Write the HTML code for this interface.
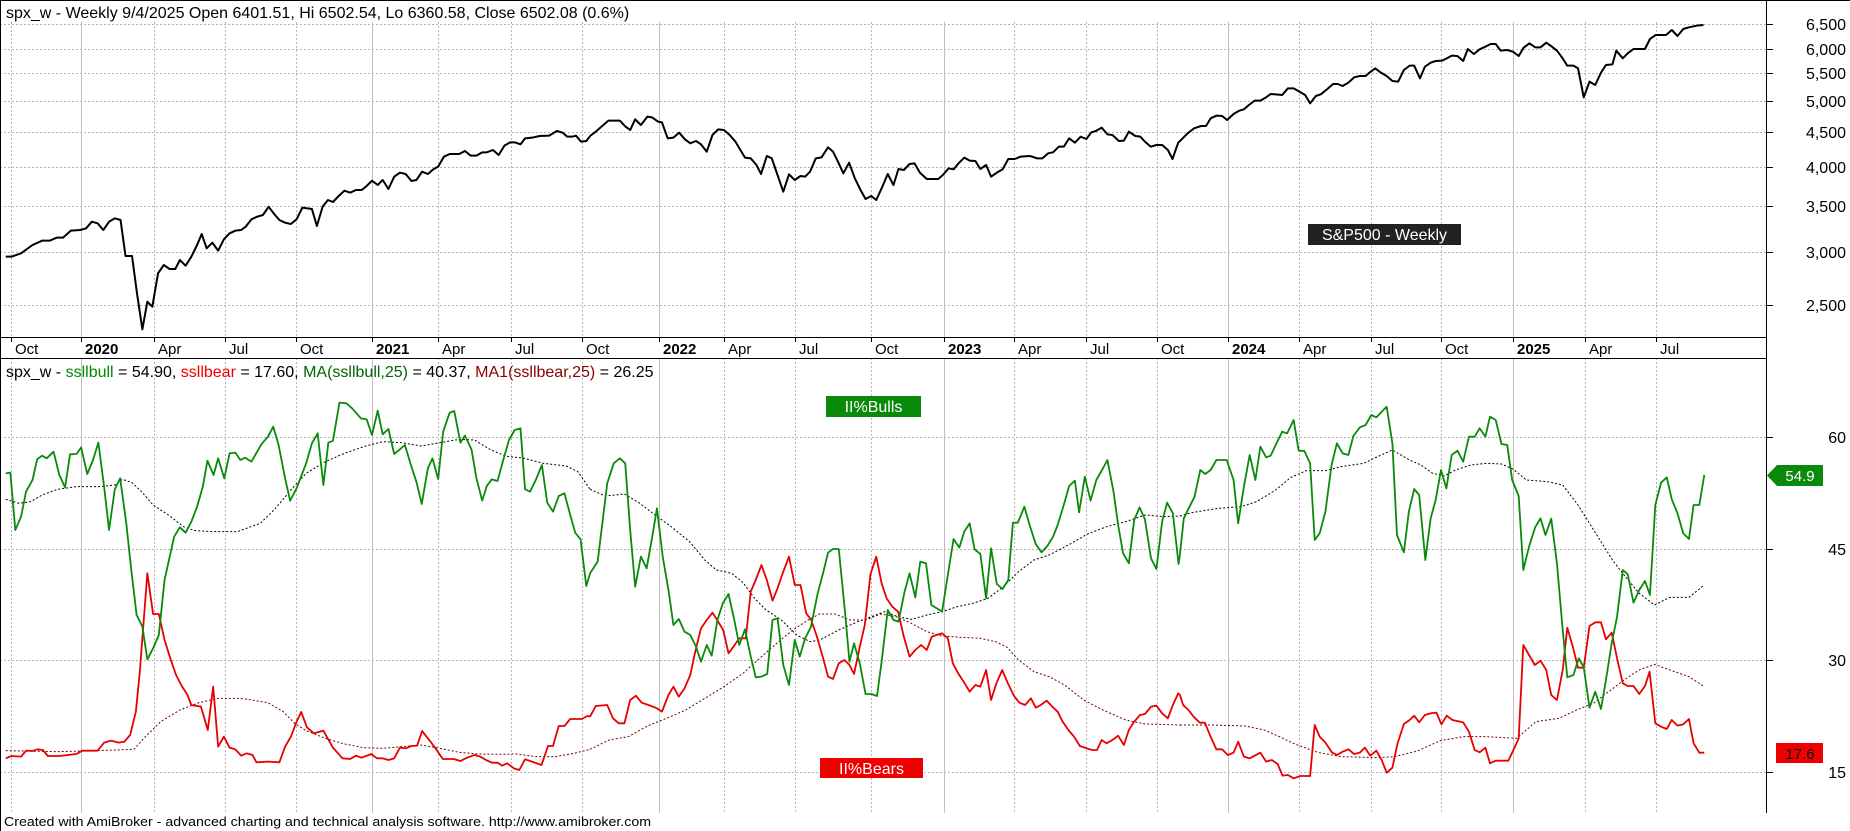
<!DOCTYPE html>
<html><head><meta charset="utf-8"><style>
html,body{margin:0;padding:0;background:#fff;}
svg{display:block;font-family:"Liberation Sans",Arial,sans-serif;}
</style></head><body>
<svg width="1850" height="831" viewBox="0 0 1850 831" xmlns="http://www.w3.org/2000/svg">
<rect x="0" y="0" width="1850" height="831" fill="#fff"/>
<g stroke="#b4b4b4" stroke-width="1" stroke-dasharray="2,2">
<line x1="0" x2="1766" y1="24.5" y2="24.5"/><line x1="0" x2="1766" y1="49.5" y2="49.5"/><line x1="0" x2="1766" y1="73.5" y2="73.5"/><line x1="0" x2="1766" y1="101.5" y2="101.5"/><line x1="0" x2="1766" y1="132.5" y2="132.5"/><line x1="0" x2="1766" y1="167.5" y2="167.5"/><line x1="0" x2="1766" y1="206.5" y2="206.5"/><line x1="0" x2="1766" y1="252.5" y2="252.5"/><line x1="0" x2="1766" y1="305.5" y2="305.5"/>
<line x1="0" x2="1766" y1="437.5" y2="437.5"/><line x1="0" x2="1766" y1="549.5" y2="549.5"/><line x1="0" x2="1766" y1="660.5" y2="660.5"/><line x1="0" x2="1766" y1="772.5" y2="772.5"/>
</g>
<g stroke="#b4b4b4" stroke-width="1" stroke-dasharray="2,2">
<line x1="11.5" x2="11.5" y1="22" y2="813"/><line x1="154.5" x2="154.5" y1="22" y2="813"/><line x1="225.5" x2="225.5" y1="22" y2="813"/><line x1="296.5" x2="296.5" y1="22" y2="813"/>
<line x1="438.5" x2="438.5" y1="22" y2="813"/><line x1="511.5" x2="511.5" y1="22" y2="813"/><line x1="582.5" x2="582.5" y1="22" y2="813"/>
<line x1="724.5" x2="724.5" y1="22" y2="813"/><line x1="795.5" x2="795.5" y1="22" y2="813"/><line x1="871.5" x2="871.5" y1="22" y2="813"/>
<line x1="1014.5" x2="1014.5" y1="22" y2="813"/><line x1="1086.5" x2="1086.5" y1="22" y2="813"/><line x1="1157.5" x2="1157.5" y1="22" y2="813"/>
<line x1="1299.5" x2="1299.5" y1="22" y2="813"/><line x1="1371.5" x2="1371.5" y1="22" y2="813"/><line x1="1441.5" x2="1441.5" y1="22" y2="813"/>
<line x1="1585.5" x2="1585.5" y1="22" y2="813"/><line x1="1656.5" x2="1656.5" y1="22" y2="813"/>
</g>
<g stroke="#c0c0c0" stroke-width="1">
<line x1="81.5" x2="81.5" y1="22" y2="813"/><line x1="372.5" x2="372.5" y1="22" y2="813"/><line x1="659.5" x2="659.5" y1="22" y2="813"/><line x1="944.5" x2="944.5" y1="22" y2="813"/><line x1="1228.5" x2="1228.5" y1="22" y2="813"/><line x1="1513.5" x2="1513.5" y1="22" y2="813"/>
</g>
<rect x="0" y="337" width="1766" height="21" fill="#fff"/>
<g stroke="#000" stroke-width="1">
<line x1="0" x2="1766" y1="337.5" y2="337.5"/><line x1="0" x2="1766" y1="358.5" y2="358.5"/>
<line x1="1766.5" x2="1766.5" y1="0" y2="813"/>
<line x1="0.5" x2="0.5" y1="0" y2="831"/><line x1="0" x2="1850" y1="0.5" y2="0.5"/>
</g>
<g stroke="#000" stroke-width="1">
<line x1="11.5" x2="11.5" y1="337" y2="342"/><line x1="81.5" x2="81.5" y1="337" y2="342"/><line x1="154.5" x2="154.5" y1="337" y2="342"/><line x1="225.5" x2="225.5" y1="337" y2="342"/><line x1="296.5" x2="296.5" y1="337" y2="342"/><line x1="372.5" x2="372.5" y1="337" y2="342"/><line x1="438.5" x2="438.5" y1="337" y2="342"/><line x1="511.5" x2="511.5" y1="337" y2="342"/><line x1="582.5" x2="582.5" y1="337" y2="342"/><line x1="659.5" x2="659.5" y1="337" y2="342"/><line x1="724.5" x2="724.5" y1="337" y2="342"/><line x1="795.5" x2="795.5" y1="337" y2="342"/><line x1="871.5" x2="871.5" y1="337" y2="342"/><line x1="944.5" x2="944.5" y1="337" y2="342"/><line x1="1014.5" x2="1014.5" y1="337" y2="342"/><line x1="1086.5" x2="1086.5" y1="337" y2="342"/><line x1="1157.5" x2="1157.5" y1="337" y2="342"/><line x1="1228.5" x2="1228.5" y1="337" y2="342"/><line x1="1299.5" x2="1299.5" y1="337" y2="342"/><line x1="1371.5" x2="1371.5" y1="337" y2="342"/><line x1="1441.5" x2="1441.5" y1="337" y2="342"/><line x1="1513.5" x2="1513.5" y1="337" y2="342"/><line x1="1585.5" x2="1585.5" y1="337" y2="342"/><line x1="1656.5" x2="1656.5" y1="337" y2="342"/>
<line x1="1766" x2="1773" y1="24.5" y2="24.5"/><line x1="1766" x2="1773" y1="49.5" y2="49.5"/><line x1="1766" x2="1773" y1="73.5" y2="73.5"/><line x1="1766" x2="1773" y1="101.5" y2="101.5"/><line x1="1766" x2="1773" y1="132.5" y2="132.5"/><line x1="1766" x2="1773" y1="167.5" y2="167.5"/><line x1="1766" x2="1773" y1="206.5" y2="206.5"/><line x1="1766" x2="1773" y1="252.5" y2="252.5"/><line x1="1766" x2="1773" y1="305.5" y2="305.5"/>
<line x1="1766" x2="1773" y1="437.5" y2="437.5"/><line x1="1766" x2="1773" y1="549.5" y2="549.5"/><line x1="1766" x2="1773" y1="660.5" y2="660.5"/><line x1="1766" x2="1773" y1="772.5" y2="772.5"/>
</g>
<g font-size="15" fill="#000">
<text x="15" y="354">Oct</text><text x="85" y="354" font-weight="bold">2020</text><text x="158" y="354">Apr</text><text x="229" y="354">Jul</text><text x="300" y="354">Oct</text><text x="376" y="354" font-weight="bold">2021</text><text x="442" y="354">Apr</text><text x="515" y="354">Jul</text><text x="586" y="354">Oct</text><text x="663" y="354" font-weight="bold">2022</text><text x="728" y="354">Apr</text><text x="799" y="354">Jul</text><text x="875" y="354">Oct</text><text x="948" y="354" font-weight="bold">2023</text><text x="1018" y="354">Apr</text><text x="1090" y="354">Jul</text><text x="1161" y="354">Oct</text><text x="1232" y="354" font-weight="bold">2024</text><text x="1303" y="354">Apr</text><text x="1375" y="354">Jul</text><text x="1445" y="354">Oct</text><text x="1517" y="354" font-weight="bold">2025</text><text x="1589" y="354">Apr</text><text x="1660" y="354">Jul</text>
</g>
<g font-size="16" fill="#000" text-anchor="end">
<text x="1846" y="30">6,500</text><text x="1846" y="55">6,000</text><text x="1846" y="79">5,500</text><text x="1846" y="107">5,000</text><text x="1846" y="138">4,500</text><text x="1846" y="173">4,000</text><text x="1846" y="212">3,500</text><text x="1846" y="258">3,000</text><text x="1846" y="311">2,500</text>
<text x="1846" y="443">60</text><text x="1846" y="555">45</text><text x="1846" y="666">30</text><text x="1846" y="778">15</text>
</g>
<text x="6" y="18" font-size="16" fill="#000">spx_w - Weekly 9/4/2025 Open 6401.51, Hi 6502.54, Lo 6360.58, Close 6502.08 (0.6%)</text>
<text x="6" y="377" font-size="16" fill="#000">spx_w - <tspan fill="#008800">ssllbull</tspan> = 54.90, <tspan fill="#ee0000">ssllbear</tspan> = 17.60, <tspan fill="#006400">MA(ssllbull,25)</tspan> = 40.37, <tspan fill="#8b0000">MA1(ssllbear,25)</tspan> = 26.25</text>
<g fill="none" stroke="#000" stroke-width="2" stroke-linejoin="round">
<polyline vector-effect="non-scaling-stroke" transform="scale(0.38270,0.33333)" points="15,770 30,770 55,760 85,735 110,722 130,722 148,713 165,713 185,692 210,690 225,685 240,665 255,670 270,690 285,665 300,655 315,660 328,768 345,768 358,880 372,988 385,905 398,920 413,820 428,795 443,807 458,807 470,780 485,797 500,770 515,735 527,702 540,745 555,728 570,752 585,718 600,700 615,692 630,690 642,680 657,658 672,650 687,645 702,620 715,640 730,660 745,668 760,672 775,658 790,623 815,627 828,678 843,620 857,600 870,606 885,588 900,572 915,578 930,570 945,570 958,558 972,542 987,555 1000,540 1015,567 1030,530 1045,518 1060,522 1075,543 1088,540 1103,515 1118,522 1132,508 1145,500 1160,470 1175,462 1200,462 1215,453 1230,467 1245,467 1260,457 1272,457 1288,450 1303,465 1318,437 1333,427 1345,427 1360,433 1372,415 1390,413 1410,408 1435,407 1455,393 1470,398 1482,410 1495,410 1505,407 1518,425 1532,423 1542,408"/>
<polyline vector-effect="non-scaling-stroke" transform="translate(590,0) scale(0.38270,0.33333)" points="0,408 15,395 30,380 48,362 78,362 93,380 105,390 118,358 133,375 150,350 162,352 178,365 188,367 203,415 218,413 233,398 248,418 262,430 277,423 290,433 305,455 320,405 335,388 350,390 365,405 380,425 393,450 405,473 420,475 435,495 447,522 462,468 475,475 490,525 505,575 520,523 535,540 550,528 562,530 575,515 590,475 605,472 622,442 635,455 648,485 662,520 677,488 692,535 707,570 720,597 735,588 748,600 762,565 778,522 793,555 806,507 820,510 835,492 848,490 862,518 880,537 910,537 922,525 937,505 950,508 963,490 978,473 992,482 1007,483 1020,507 1035,495 1048,530 1063,518 1078,508 1093,477 1110,477 1125,470 1150,468 1168,475 1182,475 1197,460 1210,457 1225,440 1238,440 1252,415 1267,428 1282,410 1297,417 1310,397 1322,393 1337,383 1352,403 1365,405 1382,423 1395,422 1408,395 1425,408 1438,410 1450,425 1465,440 1480,435 1495,435 1510,450 1522,477 1537,428 1542,423"/>
<polyline vector-effect="non-scaling-stroke" transform="translate(1180,0) scale(0.38270,0.33333)" points="0,423 20,400 37,385 55,378 68,378 80,355 95,347 110,348 123,360 140,342 155,332 167,328 180,315 195,302 210,302 225,292 237,282 250,283 267,285 282,265 297,265 312,275 327,285 340,310 355,288 368,283 385,267 400,252 412,252 425,258 440,248 455,232 470,228 485,228 495,218 510,205 525,218 540,228 555,243 570,245 585,210 600,197 612,197 627,235 640,200 655,188 668,183 685,182 697,175 710,167 725,168 740,183 752,147 768,162 783,148 798,140 812,132 825,132 838,152 855,150 870,155 885,168 898,143 913,130 928,142 942,142 957,128 972,140 985,152 998,172 1012,197 1028,197 1040,205 1055,292 1070,245 1085,255 1100,218 1113,195 1130,193 1140,152 1157,175 1170,160 1185,147 1215,147 1228,117 1243,105 1270,105 1285,90 1300,108 1315,87 1330,82 1350,77 1368,75"/>
</g>
<rect x="1308" y="224" width="153" height="21" fill="#222"/>
<text x="1384.5" y="240" font-size="16" fill="#fff" text-anchor="middle">S&amp;P500 - Weekly</text>
<g fill="none" stroke="#000" stroke-width="1" stroke-dasharray="2,2">
<polyline vector-effect="non-scaling-stroke" transform="translate(0,390) scale(0.38270,0.33333)" points="15,328 50,340 80,335 110,315 150,298 200,290 260,290 300,285 320,268 345,278 370,305 400,345 440,375 480,410 510,422 560,425 620,425 680,400 720,355 760,300 800,250 850,215 900,190 950,170 1000,155 1050,158 1100,168 1150,158 1200,148 1240,150 1280,178 1320,198 1370,205 1420,220 1480,228 1510,245 1542,298"/>
<polyline vector-effect="non-scaling-stroke" transform="translate(590,390) scale(0.38270,0.33333)" points="0,298 40,318 90,312 130,340 170,375 210,408 260,455 300,510 330,540 370,550 400,578 430,625 460,660 500,690 540,735 575,755 600,750 650,720 700,695 740,678 770,665 805,680 840,688 880,675 920,665 960,650 1000,640 1040,625 1080,590 1120,545 1160,510 1200,495 1250,465 1300,432 1350,410 1400,395 1450,375 1500,380 1542,378"/>
<polyline vector-effect="non-scaling-stroke" transform="translate(1180,390) scale(0.38270,0.33333)" points="0,378 30,368 100,355 160,350 200,335 250,300 290,262 330,242 380,242 420,230 480,220 520,198 555,180 600,210 630,225 660,250 690,258 720,240 760,225 800,220 840,222 870,237 905,270 960,275 1000,285 1040,345 1070,400 1100,455 1130,510 1160,555 1200,610 1240,645 1280,622 1330,622 1370,585"/>
</g>
<g fill="none" stroke="#6b0000" stroke-width="1" stroke-dasharray="2,2">
<polyline vector-effect="non-scaling-stroke" transform="translate(0,390) scale(0.38270,0.33333)" points="15,1082 60,1083 150,1085 250,1082 300,1080 350,1078 380,1040 420,995 470,960 520,938 570,925 630,925 700,938 740,965 770,1000 800,1022 850,1045 900,1062 950,1073 1000,1075 1050,1070 1100,1065 1150,1075 1200,1087 1250,1092 1300,1093 1350,1092 1400,1100 1450,1100 1500,1090 1542,1078"/>
<polyline vector-effect="non-scaling-stroke" transform="translate(590,390) scale(0.38270,0.33333)" points="0,1078 50,1050 100,1040 150,1008 200,985 250,960 300,925 350,890 400,850 450,798 500,748 530,720 570,690 600,672 640,672 680,690 720,690 760,672 800,680 840,700 880,725 920,738 970,742 1020,745 1060,755 1090,772 1120,810 1160,845 1200,860 1240,885 1290,930 1340,960 1400,990 1450,1002 1542,1005"/>
<polyline vector-effect="non-scaling-stroke" transform="translate(1180,390) scale(0.38270,0.33333)" points="0,1005 80,1005 170,1008 220,1020 260,1040 300,1062 360,1087 420,1100 520,1103 560,1100 620,1083 680,1052 740,1040 800,1040 880,1045 930,995 990,985 1040,958 1080,940 1120,905 1160,870 1200,840 1240,823 1280,840 1330,860 1370,890"/>
</g>
<g fill="none" stroke="#e80000" stroke-width="1.8" stroke-linejoin="round">
<polyline vector-effect="non-scaling-stroke" transform="translate(0,390) scale(0.38270,0.33333)" points="15,1105 30,1098 55,1100 68,1082 85,1083 98,1078 112,1080 125,1098 155,1098 200,1092 215,1082 255,1082 272,1058 290,1052 310,1058 325,1055 340,1035 355,965 365,850 375,700 385,550 400,672 415,672 430,750 445,805 460,855 475,888 490,915 500,945 525,950 543,1020 557,890 570,1070 585,1040 600,1073 615,1078 630,1097 645,1090 660,1095 670,1117 700,1115 730,1117 745,1070 760,1040 775,995 787,966 802,1012 820,1030 845,1022 870,1073 895,1105 915,1107 930,1097 945,1103 970,1092 985,1105 1000,1105 1015,1110 1030,1105 1045,1073 1060,1075 1075,1068 1090,1067 1103,1023 1118,1045 1135,1070 1157,1107 1185,1107 1203,1113 1220,1103 1240,1095 1255,1100 1270,1110 1285,1118 1300,1118 1312,1127 1325,1120 1343,1135 1357,1140 1372,1108 1390,1115 1415,1125 1432,1068 1445,1068 1460,1008 1475,1008 1490,987 1520,987 1535,978 1542,980"/>
<polyline vector-effect="non-scaling-stroke" transform="translate(590,390) scale(0.38270,0.33333)" points="0,980 15,948 45,945 60,985 75,1000 90,1000 105,930 120,917 135,938 160,948 175,955 188,965 205,915 218,890 232,920 247,895 262,855 275,785 290,715 305,690 320,668 335,695 348,720 362,790 375,770 390,745 407,745 420,605 433,570 448,525 462,570 477,632 490,595 505,545 520,500 535,585 550,585 565,670 578,690 593,740 608,800 622,860 635,867 650,820 665,810 678,825 690,852 705,770 718,705 733,552 748,500 762,580 775,625 790,650 805,665 820,740 835,800 850,780 865,765 880,780 893,740 905,735 920,730 935,745 948,820 962,850 978,878 992,905 1007,885 1020,890 1035,840 1048,930 1062,880 1077,840 1092,880 1108,918 1122,938 1137,945 1152,925 1165,953 1178,945 1193,932 1208,950 1222,965 1235,995 1250,1020 1265,1040 1280,1068 1298,1075 1312,1080 1325,1080 1337,1050 1350,1060 1365,1050 1380,1037 1395,1065 1408,1020 1422,995 1437,975 1450,972 1466,950 1480,947 1495,970 1510,985 1523,945 1537,910 1542,915"/>
<polyline vector-effect="non-scaling-stroke" transform="translate(1180,390) scale(0.38270,0.33333)" points="0,915 8,945 22,960 37,982 52,998 65,998 80,1040 95,1078 110,1078 125,1095 140,1088 152,1055 167,1100 182,1105 195,1097 210,1088 225,1115 240,1110 255,1122 268,1157 282,1155 297,1165 315,1158 340,1158 352,1005 365,1040 380,1058 397,1087 410,1095 425,1085 440,1078 455,1092 470,1088 483,1073 497,1097 513,1082 527,1110 540,1148 555,1133 568,1062 585,1002 600,990 612,977 625,997 640,975 655,970 670,968 683,1003 697,977 712,990 740,997 755,1025 770,1080 783,1087 798,1073 810,1120 825,1112 858,1112 872,1078 885,1045 897,765 912,795 927,825 942,812 957,840 970,915 985,930 1000,840 1012,713 1027,773 1040,833 1055,833 1070,708 1085,697 1100,697 1113,748 1128,728 1143,810 1157,880 1170,888 1185,888 1200,912 1215,888 1227,845 1242,1000 1257,1010 1272,1017 1285,990 1300,1007 1315,1003 1330,987 1342,1060 1357,1088 1370,1088"/>
</g>
<g fill="none" stroke="#0a8a0a" stroke-width="1.8" stroke-linejoin="round">
<polyline vector-effect="non-scaling-stroke" transform="translate(0,390) scale(0.38270,0.33333)" points="15,250 27,248 40,420 55,380 68,305 85,270 97,208 110,197 122,205 140,185 155,255 170,292 183,193 200,192 212,172 228,252 243,210 257,158 272,290 285,420 300,298 314,265 330,400 343,540 357,675 372,710 385,808 400,775 415,735 430,570 455,440 470,412 485,428 500,395 515,350 530,290 542,212 558,255 570,205 586,265 600,190 615,188 628,210 640,203 657,215 683,163 700,140 714,110 728,165 745,265 758,332 775,295 800,220 815,160 830,130 845,285 858,158 870,152 887,38 905,40 920,55 943,85 958,88 972,135 987,62 1000,133 1015,117 1030,192 1045,178 1058,165 1075,230 1088,275 1102,342 1118,235 1130,205 1145,267 1158,125 1175,68 1187,63 1203,158 1215,137 1232,178 1245,265 1260,332 1272,288 1285,268 1300,273 1315,210 1330,150 1345,120 1360,115 1372,298 1385,305 1400,270 1416,225 1430,338 1445,365 1460,318 1475,310 1490,375 1503,428 1517,448 1532,588 1542,550"/>
<polyline vector-effect="non-scaling-stroke" transform="translate(590,390) scale(0.38270,0.33333)" points="0,550 20,515 45,280 62,220 78,205 92,220 105,420 118,590 133,500 148,535 162,445 175,355 190,500 205,600 218,705 232,687 247,725 262,735 277,770 290,815 305,765 318,797 333,690 347,640 362,612 377,690 390,765 405,718 420,800 433,862 448,860 463,852 477,690 490,685 505,825 520,885 535,750 548,800 562,745 577,712 595,610 610,545 622,488 635,477 650,477 665,650 678,815 690,760 705,820 720,912 735,912 750,918 762,815 778,660 793,690 806,695 822,605 835,550 850,622 863,515 878,520 892,645 920,665 935,555 950,447 965,473 978,425 992,400 1005,478 1020,492 1035,625 1048,475 1063,582 1078,597 1093,570 1105,398 1118,398 1135,350 1150,410 1165,463 1180,487 1195,468 1210,440 1222,405 1238,345 1252,288 1267,272 1278,367 1293,260 1308,332 1323,270 1338,240 1352,210 1368,305 1380,405 1393,490 1408,520 1422,390 1436,352 1450,388 1466,505 1480,537 1495,395 1508,338 1523,370 1538,522 1542,490"/>
<polyline vector-effect="non-scaling-stroke" transform="translate(1180,390) scale(0.38270,0.33333)" points="0,490 10,385 25,350 38,320 53,240 66,252 80,240 95,210 122,210 140,270 152,400 167,290 182,195 197,270 210,170 225,202 237,197 252,160 267,125 280,130 297,90 310,182 325,183 340,220 352,450 365,430 380,365 396,225 410,160 425,190 440,195 453,138 470,112 485,105 500,75 513,82 540,50 555,160 567,435 585,487 598,365 612,297 625,315 641,510 655,385 668,330 682,240 696,295 710,195 725,182 740,215 755,140 770,140 783,115 798,140 810,80 825,90 840,162 855,165 868,270 885,318 897,540 912,470 928,412 942,385 955,435 970,386 985,520 1000,720 1012,862 1028,855 1042,805 1055,832 1070,953 1085,905 1100,957 1113,870 1128,760 1142,680 1157,540 1170,553 1185,638 1200,600 1215,573 1228,615 1242,345 1257,278 1272,262 1285,328 1300,370 1315,430 1330,447 1342,345 1357,345 1370,255"/>
</g>
<rect x="826" y="396" width="95" height="21" fill="#0a8a0a"/>
<text x="873.5" y="412" font-size="16" fill="#fff" text-anchor="middle">II%Bulls</text>
<rect x="820" y="758" width="103" height="20" fill="#ee0000"/>
<text x="871.5" y="774" font-size="16" fill="#fff" text-anchor="middle">II%Bears</text>
<polygon points="1767,475.5 1777,465 1823,465 1823,486 1777,486" fill="#0a8a0a"/>
<text x="1800" y="481" font-size="15" fill="#fff" text-anchor="middle">54.9</text>
<rect x="1776" y="743" width="47" height="20" fill="#ee0000"/>
<text x="1800" y="759" font-size="15" fill="#111" text-anchor="middle">17.6</text>
<text x="4" y="826" font-size="13" fill="#000" textLength="647" lengthAdjust="spacingAndGlyphs">Created with AmiBroker - advanced charting and technical analysis software. http://www.amibroker.com</text>
</svg>
</body></html>
